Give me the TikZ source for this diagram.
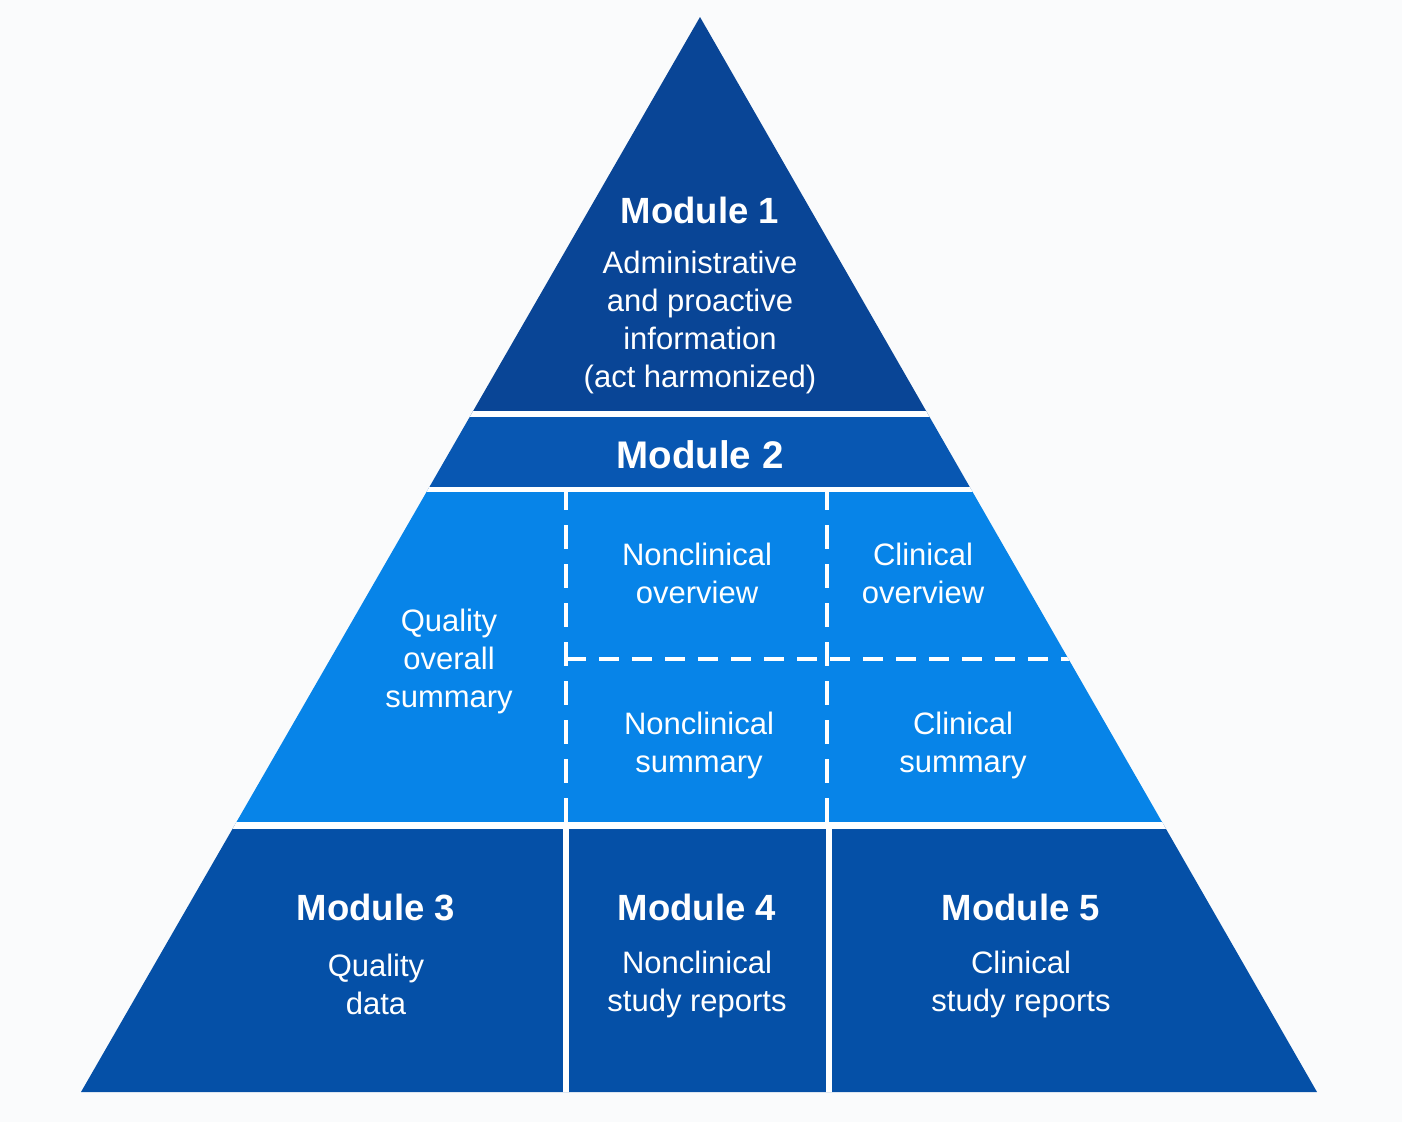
\documentclass[tikz,border=0pt]{standalone}
\usepackage{fontspec}
\setmainfont{Liberation Sans}
\begin{document}
\begin{tikzpicture}[x=1pt,y=-1pt,
  modtitle/.style={text=white,font=\fontsize{36.5}{40}\selectfont\bfseries,inner sep=0pt},
  modbody/.style={text=white,font=\fontsize{31}{38}\selectfont,align=center,inner sep=0pt},
  sep/.style={draw=white,line width=6pt},
  dsep/.style={draw=white,line width=4pt}]
\definecolor{bgc}{HTML}{FAFBFC}
\definecolor{mone}{HTML}{094596}
\definecolor{mtwo}{HTML}{0857B2}
\definecolor{mmid}{HTML}{0784E8}
\definecolor{mbot}{HTML}{0550A7}
\fill[bgc] (0,0) rectangle (1402,1122);
\useasboundingbox (0,0) rectangle (1402,1122);
\coordinate (apex) at (700,17);
\coordinate (bl) at (81,1092);
\coordinate (br) at (1317,1092);
\begin{scope}
  \clip (apex) -- (bl) -- (br) -- cycle;
  \fill[mone] (0,0) rectangle (1402,414);
  \fill[mtwo] (0,414) rectangle (1402,489);
  \fill[mmid] (0,489) rectangle (1402,825);
  \fill[mbot] (0,825) rectangle (1402,1100);
  \draw[sep] (0,414) -- (1402,414);
  \draw[draw=white,line width=5pt] (0,489.5) -- (1402,489.5);
  \draw[draw=white,line width=7pt] (0,825.5) -- (1402,825.5);
  \draw[sep] (565.5,825) -- (565.5,1100);
  \draw[sep] (828.5,825) -- (828.5,1100);
  \draw[dsep,dash pattern=on 24pt off 15pt,dash phase=6pt] (566,492) -- (566,822);
  \draw[dsep,dash pattern=on 24pt off 15pt,dash phase=6pt] (827,492) -- (827,822);
  \draw[dsep,dash pattern=on 20pt off 13pt] (566,659) -- (1100,659);
\end{scope}
\node[modtitle] (m1) at (700,210) {Module 1};
\node[modbody] (m1b) at (700,322) {Administrative\\and proactive\\information\\(act harmonized)};
\node[modtitle,font=\fontsize{38.5}{42}\selectfont\bfseries] (m2) at (700,455) {Module 2};
\node[modbody] (qos) at (449,661) {Quality\\overall\\summary};
\node[modbody] (nco) at (697,573) {Nonclinical\\overview};
\node[modbody] (co) at (923,573) {Clinical\\overview};
\node[modbody] (ncs) at (699,745) {Nonclinical\\summary};
\node[modbody] (cs) at (963,745) {Clinical\\summary};
\node[modtitle] (m3) at (376,907) {Module 3};
\node[modbody] (m3b) at (376,984) {Quality\\data};
\node[modtitle] (m4) at (697,907) {Module 4};
\node[modbody] (m4b) at (697,984) {Nonclinical\\study reports};
\node[modtitle] (m5) at (1021,907) {Module 5};
\node[modbody] (m5b) at (1021,984) {Clinical\\study reports};
\end{tikzpicture}
\end{document}
